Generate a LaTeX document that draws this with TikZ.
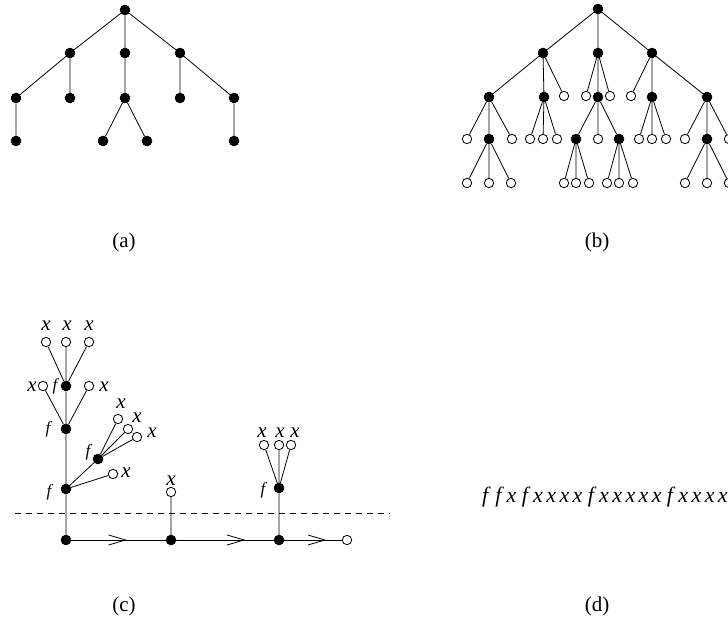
\documentclass[tikz,border=0pt]{standalone}
\usepackage{fontspec}
\setmainfont{Liberation Serif}[ItalicFont={Liberation Serif Italic}]
\usetikzlibrary{decorations.markings,arrows.meta}
\newcommand\dlet[1]{\makebox[13.2pt]{#1}}
\begin{document}
\begin{tikzpicture}[x=1pt,y=-1pt,
  fn/.style={circle,fill=black,draw=black,line width=0.5pt,inner sep=0pt,minimum size=10pt},
  on/.style={circle,draw=black,fill=white,line width=0.8pt,inner sep=0pt,minimum size=9.4pt},
  ed/.style={line width=0.8pt},
  lab/.style={inner sep=0pt,font=\fontsize{21}{25}\selectfont},
  xl/.style={inner sep=0pt,font=\fontsize{21}{25}\selectfont\itshape},
  fl/.style={inner sep=0pt,font=\fontsize{17}{20}\selectfont\itshape},
  chev/.style={postaction={decorate},decoration={markings,mark=at position #1 with {\arrow{Straight Barb[length=17pt,width=10pt,line width=0.8pt]}}}}
]
\useasboundingbox (0,0) rectangle (728,624);
% ---------- (a)
\node[fn] (a0) at (125,10) {};
\node[fn] (a1) at (70,53) {};
\node[fn] (a2) at (125,53) {};
\node[fn] (a3) at (180,53) {};
\node[fn] (a11) at (16,98) {};
\node[fn] (a12) at (70,98) {};
\node[fn] (a21) at (125,98) {};
\node[fn] (a31) at (180,98) {};
\node[fn] (a32) at (234,98) {};
\node[fn] (a111) at (16,141) {};
\node[fn] (a211) at (103,141) {};
\node[fn] (a212) at (147,141) {};
\node[fn] (a321) at (234,141) {};
\draw[ed] (a0)--(a1) (a0)--(a2) (a0)--(a3) (a1)--(a11) (a1)--(a12) (a2)--(a21)
  (a3)--(a31) (a3)--(a32) (a11)--(a111) (a21)--(a211) (a21)--(a212) (a32)--(a321);
\node[lab] (la) at (124,242) {(a)};
% ---------- (b)
\node[fn] (b0) at (598,9) {};
\node[fn] (b1) at (543,53) {};
\node[fn] (b2) at (598,53) {};
\node[fn] (b3) at (652,53) {};
\node[fn] (b11) at (489,97) {};
\node[fn] (b12) at (544,97) {};
\node[on] (b13) at (564,96) {};
\node[on] (b21) at (586,96) {};
\node[fn] (b22) at (598,97) {};
\node[on] (b23) at (610,96) {};
\node[on] (b31) at (631,96) {};
\node[fn] (b32) at (652,97) {};
\node[fn] (b33) at (707,97) {};
\node[on] (b111) at (467,139) {};
\node[fn] (b112) at (489,139) {};
\node[on] (b113) at (512,139) {};
\node[on] (b1121) at (467,183) {};
\node[on] (b1122) at (489,183) {};
\node[on] (b1123) at (511,183) {};
\node[on] (b121) at (530,139) {};
\node[on] (b122) at (543,139) {};
\node[on] (b123) at (557,139) {};
\node[fn] (b221) at (576,139) {};
\node[on] (b222) at (598,139) {};
\node[fn] (b223) at (619,139) {};
\node[on] (b2211) at (564,183) {};
\node[on] (b2212) at (576,183) {};
\node[on] (b2213) at (589,183) {};
\node[on] (b2231) at (607,183) {};
\node[on] (b2232) at (619,183) {};
\node[on] (b2233) at (633,183) {};
\node[on] (b321) at (639,139) {};
\node[on] (b322) at (652,139) {};
\node[on] (b323) at (666,139) {};
\node[on] (b331) at (685,139) {};
\node[fn] (b332) at (707,139) {};
\node[on] (b333) at (729,139) {};
\node[on] (b3321) at (685,183) {};
\node[on] (b3322) at (707,183) {};
\node[on] (b3323) at (729,183) {};
\draw[ed] (b0)--(b1) (b0)--(b2) (b0)--(b3)
  (b1)--(b11) (b1)--(b12) (b1)--(b13)
  (b2)--(b21) (b2)--(b22) (b2)--(b23)
  (b3)--(b31) (b3)--(b32) (b3)--(b33)
  (b11)--(b111) (b11)--(b112) (b11)--(b113)
  (b112)--(b1121) (b112)--(b1122) (b112)--(b1123)
  (b12)--(b121) (b12)--(b122) (b12)--(b123)
  (b22)--(b221) (b22)--(b222) (b22)--(b223)
  (b221)--(b2211) (b221)--(b2212) (b221)--(b2213)
  (b223)--(b2231) (b223)--(b2232) (b223)--(b2233)
  (b32)--(b321) (b32)--(b322) (b32)--(b323)
  (b33)--(b331) (b33)--(b332) (b33)--(b333)
  (b332)--(b3321) (b332)--(b3322) (b332)--(b3323);
\node[lab] (lb) at (597,242) {(b)};
% ---------- (c)
\coordinate (dl1) at (15,513);
\coordinate (dl2) at (390,513);
\draw[line width=0.8pt,dash pattern=on 6pt off 5pt] (dl1)--(dl2);
\node[fn] (c0) at (66,540) {};
\node[fn] (c1) at (171,540) {};
\node[fn] (c2) at (279,540) {};
\node[on] (c3) at (347,540) {};
\node[fn] (cf1) at (66,489) {};
\node[fn] (cf2) at (66,429) {};
\node[fn] (cf3) at (66,386) {};
\node[on] (ct1) at (46,342) {};
\node[on] (ct2) at (66,342) {};
\node[on] (ct3) at (89,342) {};
\node[on] (cm1) at (43,386) {};
\node[on] (cm2) at (89,386) {};
\node[fn] (cb) at (98,459) {};
\node[on] (cb1) at (118,419) {};
\node[on] (cb2) at (128,429) {};
\node[on] (cb3) at (137,437) {};
\node[on] (cr) at (113,474) {};
\node[on] (cmid) at (171,492) {};
\node[fn] (cg) at (279,488) {};
\node[on] (cg1) at (264,445) {};
\node[on] (cg2) at (279,445) {};
\node[on] (cg3) at (291,445) {};
\draw[ed] (c0)--(cf1) (cf1)--(cf2) (cf2)--(cf3)
  (cf3)--(ct1) (cf3)--(ct2) (cf3)--(ct3)
  (cf2)--(cm1) (cf2)--(cm2)
  (cf1)--(cb) (cb)--(cb1) (cb)--(cb2) (cb)--(cb3)
  (cf1)--(cr) (c1)--(cmid) (c2)--(cg)
  (cg)--(cg1) (cg)--(cg2) (cg)--(cg3);
\draw[ed,chev=0.59] (c0)--(c1);
\draw[ed,chev=0.71] (c1)--(c2);
\draw[ed,chev=0.73] (c2)--(c3);
% labels
\node[xl] (x1) at (46,326) {x};
\node[xl] (x2) at (67,326) {x};
\node[xl] (x3) at (89,326) {x};
\node[xl] (x4) at (32,387) {x};
\node[xl] (x5) at (104,387) {x};
\node[xl] (x6) at (121,404) {x};
\node[xl] (x7) at (137,418) {x};
\node[xl] (x8) at (152,433) {x};
\node[xl] (x9) at (126,473) {x};
\node[xl] (x10) at (171,481) {x};
\node[xl] (x11) at (262,433) {x};
\node[xl] (x12) at (280,433) {x};
\node[xl] (x13) at (295,433) {x};
\node[fl] (f1) at (55,386) {f};
\node[fl] (f2) at (48,429) {f};
\node[fl] (f3) at (49,492) {f};
\node[fl] (f4) at (88,452) {f};
\node[fl] (f5) at (263,490) {f};
\node[lab] (lc) at (124,606) {(c)};
% ---------- (d)
\node[inner sep=0pt,anchor=base west,font=\fontsize{22}{26}\selectfont\itshape] (dtext) at (478.4,502)
 {\dlet{f}\dlet{f}\dlet{x}\dlet{f}\dlet{x}\dlet{x}\dlet{x}\dlet{x}\dlet{f}\dlet{x}\dlet{x}\dlet{x}\dlet{x}\dlet{x}\dlet{f}\dlet{x}\dlet{x}\dlet{x}\dlet{x}};
\node[lab] (ld) at (597,606) {(d)};
\end{tikzpicture}
\end{document}
